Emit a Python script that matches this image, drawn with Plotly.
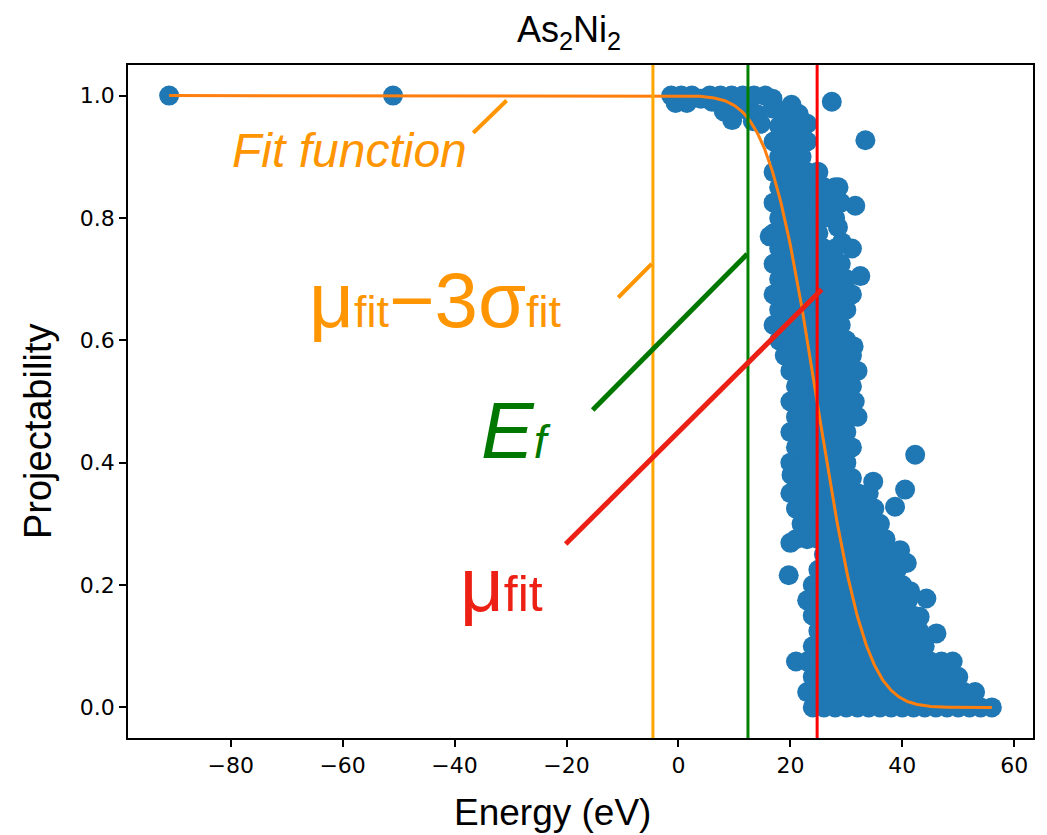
import math
import numpy as np
import plotly.graph_objects as go

# Fitted complementary-error-function parameters (eV)
mu_fit = 24.78
sigma_fit = 9.78
e_fermi = 12.42

# Isolated low-energy states and the projectability plateau near 1
plateau_E = [-91.0, -51.0, -1.3, 0.5, 2.4, -0.5, 1.5, 4.0, 5.6, 7.5, 9.5, 11.5, 13.5, 15.5, 16.8,
             6.0, 8.1, 9.6, 11.0, 12.5, 14.0, 13.3, 14.7, 16.8, 18.8, 20.2, 21.5, 23.0, 27.4]
plateau_P = [1.0, 1.0, 1.0, 1.0, 1.0, 0.988, 0.988, 0.995, 1.0, 1.0, 1.0, 1.0, 1.0, 1.0, 0.995,
             0.99, 0.974, 0.96, 0.985, 0.975, 0.97, 0.958, 0.954, 0.979, 0.974, 0.985, 0.97, 0.954, 0.99]

# Dense cloud of states, listed level by level (projectability -> energies)
row_P = [0.000, 0.025, 0.050, 0.075, 0.100, 0.125, 0.150, 0.175, 0.200, 0.225,
         0.250, 0.275, 0.300, 0.325, 0.350, 0.375, 0.400, 0.425, 0.450, 0.475,
         0.500, 0.525, 0.550, 0.575, 0.600, 0.625, 0.650, 0.675, 0.700, 0.725,
         0.750, 0.775, 0.800, 0.825, 0.850, 0.875, 0.900, 0.925, 0.950]
row_E = [
    [24, 26, 28, 30, 32, 34, 36, 38, 40, 42, 44, 46, 48, 50, 52, 54, 56],
    [23, 25, 27, 29, 31, 33, 35, 37, 39, 41, 43, 45, 47, 49, 51, 53],
    [24, 26, 28, 30, 32, 34, 36, 38, 40, 42, 44, 46, 48, 50],
    [21, 23, 25, 27, 29, 31, 33, 35, 37, 39, 41, 43, 45, 47, 49],
    [24, 26, 28, 30, 32, 34, 36, 38, 40, 42, 44],
    [25, 27, 29, 31, 33, 35, 37, 39, 41, 43],
    [24, 26, 28, 30, 32, 34, 36, 38, 40, 42],
    [23, 25, 27, 29, 31, 33, 35, 37, 39, 41],
    [24, 26, 28, 30, 32, 34, 36, 38, 40],
    [25, 27, 29, 31, 33, 35, 37, 39],
    [26, 28, 30, 32, 34, 36, 38],
    [21, 23, 25, 27, 29, 31, 33, 35, 37],
    [22, 24, 26, 28, 30, 32, 34, 36],
    [21, 23, 25, 27, 29, 31, 33, 35],
    [20, 22, 24, 26, 28, 30, 32, 34],
    [21, 23, 25, 27, 29, 31],
    [20, 22, 24, 26, 28, 30],
    [21, 23, 25, 27, 29, 31],
    [20, 22, 24, 26, 28, 30],
    [21, 23, 25, 27, 29, 31, 32],
    [20, 22, 24, 26, 28, 30, 31.5],
    [21, 23, 25, 27, 29, 31],
    [20, 22, 24, 26, 28, 30, 32],
    [19, 21, 23, 25, 27, 29, 31],
    [18, 20, 22, 24, 26, 28, 30],
    [17, 19, 21, 23, 25, 27, 29],
    [18, 20, 22, 24, 26, 28, 30],
    [17, 19, 21, 23, 25, 27, 29, 31],
    [18, 20, 22, 24, 26, 28, 30],
    [17, 19, 21, 23, 25, 27, 29],
    [18, 20, 22, 24, 26, 28],
    [17, 19, 21, 23, 25],
    [18, 20, 22, 24, 26, 28],
    [17, 19, 21, 23, 25, 27, 29],
    [18, 20, 22, 24, 26, 28],
    [17, 19, 21, 23, 25],
    [18, 20, 22],
    [17, 19, 21, 23],
    [18, 20, 22],
]

# Scattered states around the edge of the cloud
outlier_E = [46.1, 43.1, 44.3, 41.4, 40.8, 19.7, 39.6, 20.0, 38.7, 40.5, 34.8, 20.2,
             42.3, 31.3, 32.5, 29.2, 31.0, 16.3, 28.5, 31.6, 28.6, 24.8, 33.4]
outlier_P = [0.121, 0.148, 0.178, 0.19, 0.236, 0.216, 0.257, 0.269, 0.328, 0.356, 0.369, 0.38,
             0.413, 0.59, 0.705, 0.76, 0.75, 0.77, 0.785, 0.82, 0.85, 0.875, 0.927]

energy = list(plateau_E) + list(outlier_E)
proj = list(plateau_P) + list(outlier_P)
for p, row in zip(row_P, row_E):
    energy.extend(row)
    proj.extend([p] * len(row))

# Axis limits with 5% padding around the data
e_lo, e_hi = min(energy), max(energy)
e_pad = 0.05 * (e_hi - e_lo)
x_range = [e_lo - e_pad, e_hi + e_pad]
y_range = [-0.05, 1.05]

# Fit curve: P(E) = 0.5 * erfc((E - mu) / sigma)
fit_E = np.linspace(e_lo, e_hi, 700)
fit_P = [0.5 * math.erfc((e - mu_fit) / sigma_fit) for e in fit_E]

BLUE = "#1f77b4"
FIT_ORANGE = "#ff7f0e"
LABEL_ORANGE = "#ff9500"
LABEL_GREEN = "#007800"
LABEL_RED = "#ec2014"
SANS = "Liberation Sans, Arial, sans-serif"

fig = go.Figure()
fig.add_trace(go.Scatter(
    x=energy, y=proj, mode="markers",
    marker=dict(size=20, color=BLUE, line=dict(width=0)),
    showlegend=False, hoverinfo="skip",
))
fig.add_trace(go.Scatter(
    x=fit_E, y=fit_P, mode="lines",
    line=dict(color=FIT_ORANGE, width=3),
    showlegend=False, hoverinfo="skip",
))

# Vertical markers: mu - 3 sigma, Fermi energy, mu
for xv, col in [(mu_fit - 3 * sigma_fit, "#ffa500"), (e_fermi, "#008000"), (mu_fit, "#ff0000")]:
    fig.add_shape(type="line", xref="x", yref="paper", x0=xv, x1=xv, y0=0, y1=1,
                  line=dict(color=col, width=3), layer="above")

# Pointer strokes from the labels
pointers = [
    (-36.66, 0.939, -30.7, 0.992, LABEL_ORANGE, 4),
    (-10.76, 0.670, -4.79, 0.725, LABEL_ORANGE, 4),
    (-15.33, 0.486, 12.29, 0.741, LABEL_GREEN, 5),
    (-20.15, 0.267, 25.59, 0.683, LABEL_RED, 5),
]
for x0, y0, x1, y1, col, w in pointers:
    fig.add_shape(type="line", xref="x", yref="y", x0=x0, y0=y0, x1=x1, y1=y1,
                  line=dict(color=col, width=w), layer="above")

sub = "<span style='font-size:{}px'>{}</span>"
labels = [
    (-80.1, 0.9095, "<i>Fit function</i>", LABEL_ORANGE, 48),
    (-66.4, 0.666, "μ" + sub.format(45, "fit") + "−3σ" + sub.format(45, "fit"), LABEL_ORANGE, 78),
    (-35.6, 0.4534, "<i>E" + sub.format(46, "f") + "</i>", LABEL_GREEN, 79),
    (-39.4, 0.2017, "μ" + sub.format(50, "fit"), LABEL_RED, 76),
]
for x, y, txt, col, fs in labels:
    fig.add_annotation(x=x, y=y, xref="x", yref="y", text=txt, showarrow=False,
                       xanchor="left", yanchor="middle",
                       font=dict(family=SANS, size=fs, color=col))

# Title and axis titles
fig.add_annotation(x=0.4873, y=1.049, xref="paper", yref="paper",
                   text="As<sub>2</sub>Ni<sub>2</sub>", showarrow=False,
                   xanchor="center", yanchor="middle",
                   font=dict(family=SANS, size=36, color="black"))
fig.add_annotation(x=0.4696, y=-0.111, xref="paper", yref="paper",
                   text="Energy (eV)", showarrow=False,
                   xanchor="center", yanchor="middle",
                   font=dict(family=SANS, size=37, color="black"))
fig.add_annotation(x=-0.0994, y=0.4547, xref="paper", yref="paper",
                   text="Projectability", showarrow=False, textangle=-90,
                   xanchor="center", yanchor="middle",
                   font=dict(family=SANS, size=38, color="black"))

axis_common = dict(
    showline=True, mirror=True, linecolor="black", linewidth=1.5,
    ticks="outside", ticklen=7, tickwidth=1.5, tickcolor="black",
    showgrid=False, zeroline=False,
    tickfont=dict(family="DejaVu Sans", size=22, color="black"),
)
fig.update_xaxes(range=x_range, tickvals=[-80, -60, -40, -20, 0, 20, 40, 60], **axis_common)
fig.update_yaxes(range=y_range, tickvals=[0.0, 0.2, 0.4, 0.6, 0.8, 1.0], tickformat=".1f",
                 **axis_common)

fig.update_layout(
    width=1047, height=835,
    margin=dict(l=128, r=14, t=65, b=97),
    paper_bgcolor="white", plot_bgcolor="white",
    showlegend=False,
)

fig.write_html("out.html")
